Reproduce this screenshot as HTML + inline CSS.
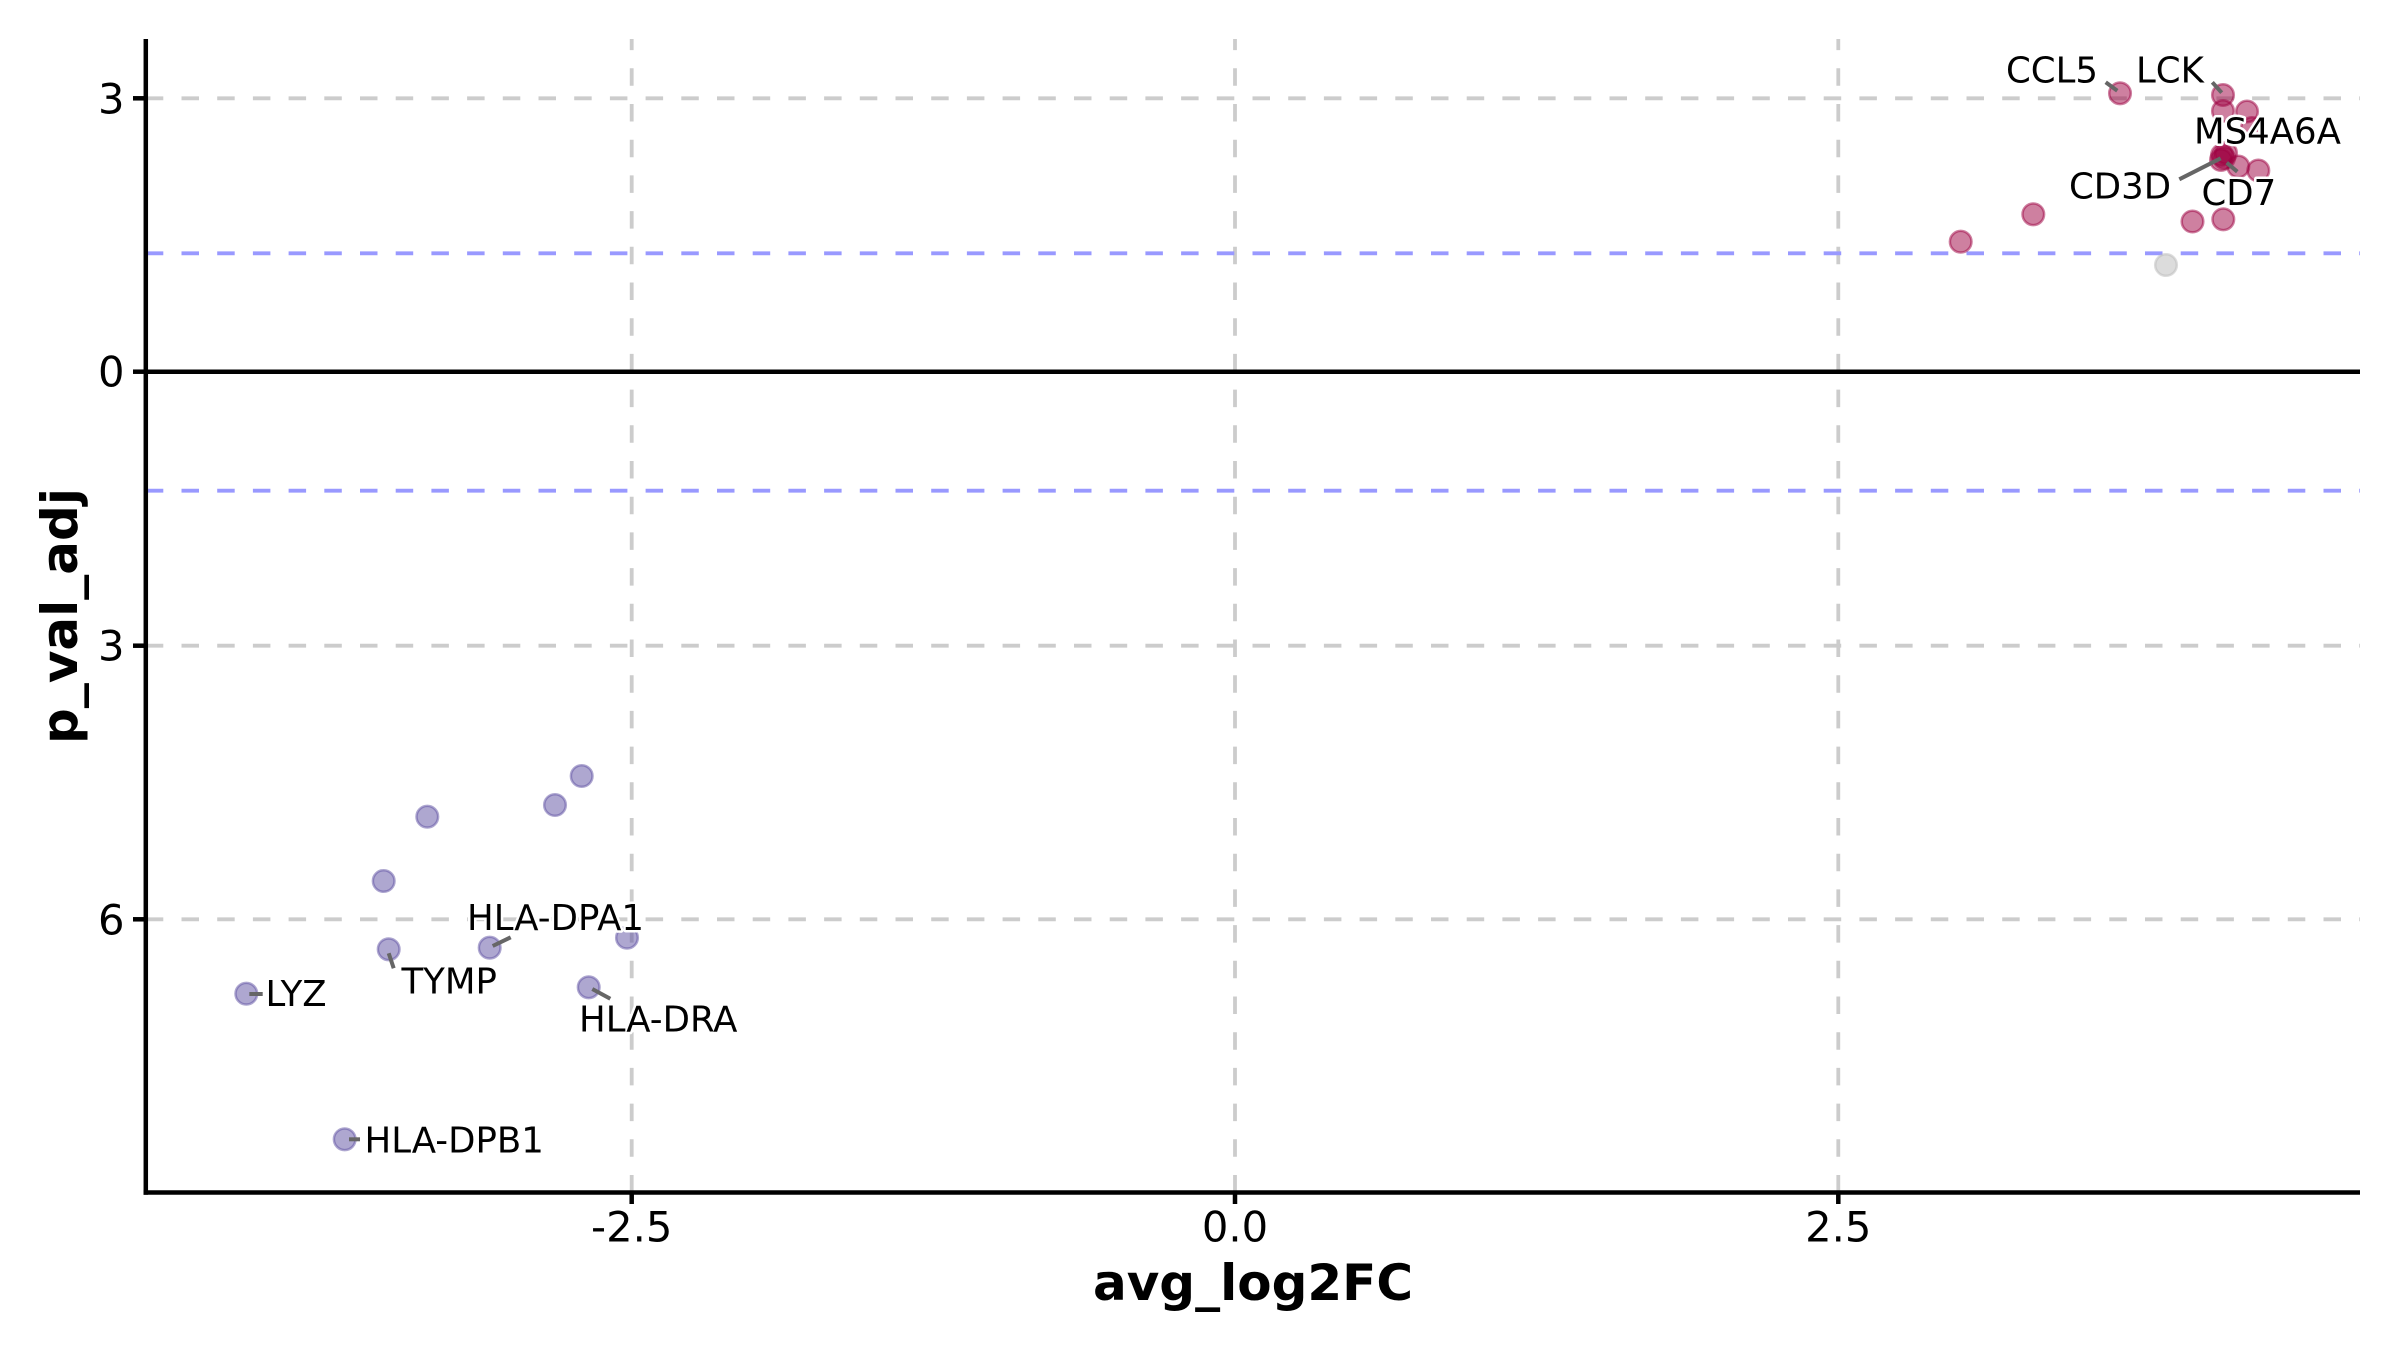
<!DOCTYPE html>
<html>
<head>
<meta charset="utf-8">
<style>
  html, body { margin:0; padding:0; background:#ffffff; }
  svg { display:block; }
  text { font-family: "DejaVu Sans", "Liberation Sans", sans-serif; }
  .tick { font-size:41.67px; fill:#000; }
  .title { font-size:50px; font-weight:bold; fill:#000; }
  .lab { font-size:35.5px; fill:#000; stroke:#ffffff; stroke-width:5px; paint-order:stroke; stroke-linejoin:round; }
</style>
</head>
<body>
<svg width="2400" height="1351" viewBox="0 0 2400 1351" xmlns="http://www.w3.org/2000/svg">
  <rect x="0" y="0" width="2400" height="1351" fill="#ffffff"/>

  <!-- grid lines -->
  <g stroke="#cccccc" stroke-width="3.8" stroke-dasharray="17.5 18.2" fill="none">
    <line x1="145.8" y1="98.3" x2="2360" y2="98.3"/>
    <line x1="145.8" y1="645.7" x2="2360" y2="645.7"/>
    <line x1="145.8" y1="919.3" x2="2360" y2="919.3"/>
    <line x1="631.7" y1="1192.5" x2="631.7" y2="39"/>
    <line x1="1235" y1="1192.5" x2="1235" y2="39"/>
    <line x1="1838.3" y1="1192.5" x2="1838.3" y2="39"/>
  </g>

  <!-- significance lines -->
  <g stroke="#9999ff" stroke-width="3.8" stroke-dasharray="17.5 18.2" fill="none">
    <line x1="145.8" y1="253.3" x2="2360" y2="253.3"/>
    <line x1="145.8" y1="490.7" x2="2360" y2="490.7"/>
  </g>

  <!-- zero line -->
  <line x1="145.8" y1="371.7" x2="2360" y2="371.7" stroke="#000" stroke-width="4.5"/>

  <!-- purple points -->
  <g fill="#5e4fa2" fill-opacity="0.5" stroke="#5e4fa2" stroke-opacity="0.5" stroke-width="2.5">
    <circle cx="581.7" cy="776" r="10.8"/>
    <circle cx="555" cy="805" r="10.8"/>
    <circle cx="427.3" cy="816.7" r="10.8"/>
    <circle cx="383.7" cy="881" r="10.8"/>
    <circle cx="388.7" cy="949.3" r="10.8"/>
    <circle cx="489.7" cy="947.7" r="10.8"/>
    <circle cx="627" cy="937.7" r="10.8"/>
    <circle cx="588.7" cy="987.3" r="10.8"/>
    <circle cx="246.3" cy="993.7" r="10.8"/>
    <circle cx="344.7" cy="1139.3" r="10.8"/>
  </g>

  <!-- grey point -->
  <circle cx="2166" cy="265" r="10.8" fill="#bababa" fill-opacity="0.5" stroke="#bababa" stroke-opacity="0.5" stroke-width="2.5"/>

  <!-- pink points -->
  <g fill="#9e0142" fill-opacity="0.5" stroke="#9e0142" stroke-opacity="0.5" stroke-width="2.5">
    <circle cx="1960.7" cy="241.7" r="10.8"/>
    <circle cx="2033.3" cy="214.3" r="10.8"/>
    <circle cx="2120" cy="93.3" r="10.8"/>
    <circle cx="2223" cy="95" r="10.8"/>
    <circle cx="2223" cy="111" r="10.8"/>
    <circle cx="2247" cy="111.5" r="10.8"/>
    <circle cx="2252" cy="128" r="10.8"/>
    <circle cx="2222" cy="155" r="10.8"/>
    <circle cx="2224" cy="158" r="10.8"/>
    <circle cx="2221" cy="160" r="10.8"/>
    <circle cx="2226" cy="153" r="10.8"/>
    <circle cx="2238.3" cy="166.5" r="10.8"/>
    <circle cx="2258.3" cy="170.5" r="10.8"/>
    <circle cx="2192.5" cy="221.5" r="10.8"/>
    <circle cx="2223.3" cy="219.3" r="10.8"/>
  </g>

  <!-- connector lines -->
  <g stroke="#666666" stroke-width="4" stroke-linecap="butt">
    <line x1="2105.7" y1="82.3" x2="2117.3" y2="90.7"/>
    <line x1="2212.3" y1="82.3" x2="2221.7" y2="92.7"/>
    <line x1="2179.3" y1="179.3" x2="2220.7" y2="158.3"/>
    <line x1="2226.7" y1="162.7" x2="2237.3" y2="171.7"/>
    <line x1="492.7" y1="946" x2="510.7" y2="937.3"/>
    <line x1="388.7" y1="953.3" x2="393.7" y2="968.3"/>
    <line x1="249.3" y1="994" x2="262.7" y2="994"/>
    <line x1="592.3" y1="989" x2="610.3" y2="998.7"/>
    <line x1="349" y1="1139.3" x2="360" y2="1139.3"/>
  </g>

  <!-- gene labels -->
  <text class="lab" x="2006" y="82.7">CCL5</text>
  <text class="lab" x="2136" y="82.7">LCK</text>
  <text class="lab" x="2194" y="143.3">MS4A6A</text>
  <text class="lab" x="2069" y="198.3">CD3D</text>
  <text class="lab" x="2201.5" y="205">CD7</text>
  <text class="lab" x="467" y="930">HLA-DPA1</text>
  <text class="lab" x="401.5" y="993.3">TYMP</text>
  <text class="lab" x="265.5" y="1006">LYZ</text>
  <text class="lab" x="579" y="1031.7">HLA-DRA</text>
  <text class="lab" x="364.5" y="1152.3">HLA-DPB1</text>

  <!-- spines -->
  <line x1="145.8" y1="39" x2="145.8" y2="1194.7" stroke="#000" stroke-width="4.5"/>
  <line x1="143.5" y1="1192.5" x2="2360" y2="1192.5" stroke="#000" stroke-width="4.5"/>

  <!-- ticks -->
  <g stroke="#000" stroke-width="4.5">
    <line x1="133" y1="98.3" x2="146" y2="98.3"/>
    <line x1="133" y1="371.7" x2="146" y2="371.7"/>
    <line x1="133" y1="645.7" x2="146" y2="645.7"/>
    <line x1="133" y1="919.3" x2="146" y2="919.3"/>
    <line x1="631.7" y1="1192.5" x2="631.7" y2="1204"/>
    <line x1="1235" y1="1192.5" x2="1235" y2="1204"/>
    <line x1="1838.3" y1="1192.5" x2="1838.3" y2="1204"/>
  </g>

  <!-- tick labels -->
  <text class="tick" x="124.5" y="113.3" text-anchor="end">3</text>
  <text class="tick" x="124.5" y="386.7" text-anchor="end">0</text>
  <text class="tick" x="124.5" y="660.7" text-anchor="end">3</text>
  <text class="tick" x="124.5" y="934.3" text-anchor="end">6</text>
  <text class="tick" x="631.7" y="1241.7" text-anchor="middle">-2.5</text>
  <text class="tick" x="1235" y="1241.7" text-anchor="middle">0.0</text>
  <text class="tick" x="1838.3" y="1241.7" text-anchor="middle">2.5</text>

  <!-- axis titles -->
  <text class="title" x="1253" y="1300" text-anchor="middle">avg_log2FC</text>
  <text class="title" transform="translate(77,616) rotate(-90)" x="0" y="0" text-anchor="middle">p_val_adj</text>
</svg>
</body>
</html>
